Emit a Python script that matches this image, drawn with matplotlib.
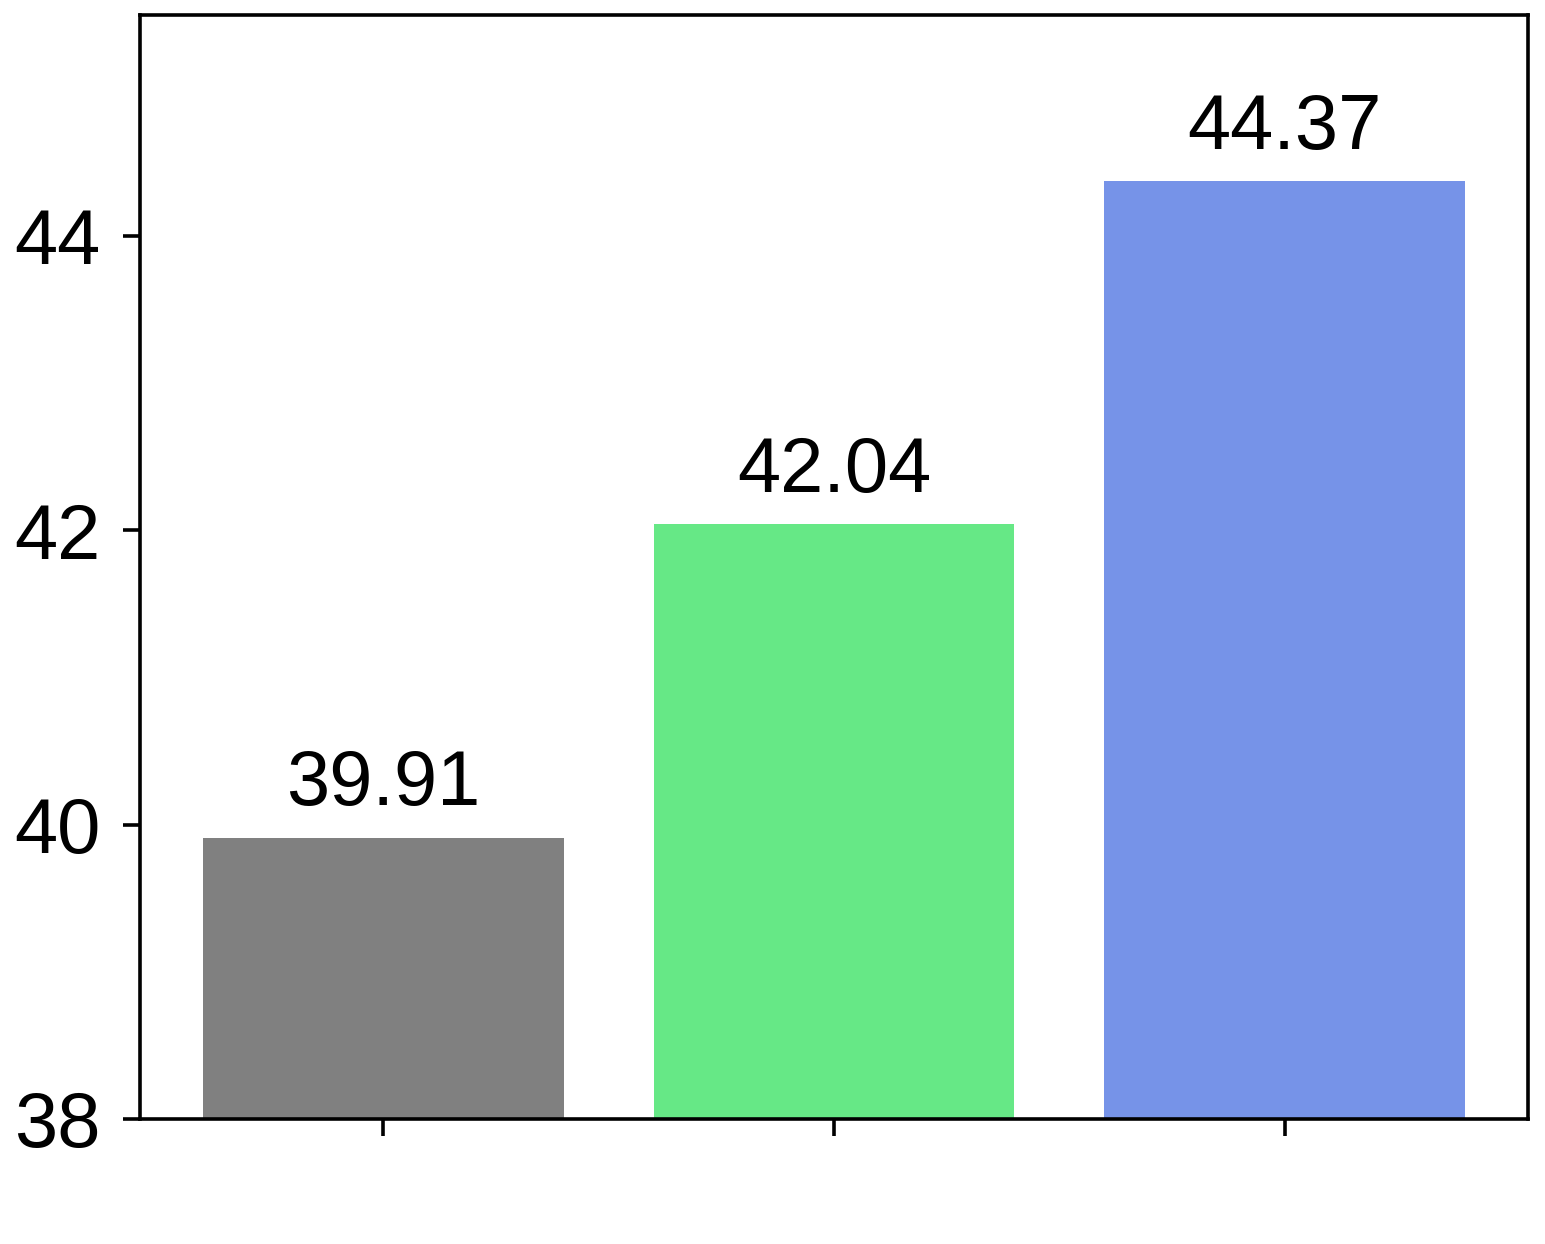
import matplotlib
matplotlib.use("Agg")
import matplotlib.pyplot as plt

plt.rcParams['font.family'] = ['Liberation Sans', 'DejaVu Sans']

# datos
categories = ["A", "B", "C"]
values = [39.91, 42.04, 44.37]
colors = ["#808080", "#66e886", "#7693e8"]

fig = plt.figure(figsize=(15.45, 12.44), dpi=100)
ax = fig.add_axes([0.0906, 0.1005, 0.8984, 0.8875])

x = range(len(categories))
bars = ax.bar(x, values, width=0.8, color=colors)

# etiquetas sobre las barras
for b, v in zip(bars, values):
    ax.annotate(f"{v:.2f}", (b.get_x() + b.get_width() / 2, v),
                xytext=(0, 12), textcoords="offset points",
                ha="center", va="bottom", fontsize=56)

ax.set_ylim(38, 45.5)
ax.set_yticks([38, 40, 42, 44])
ax.set_xticks(list(x))
ax.set_xticklabels([])
ax.tick_params(axis="both", labelsize=56, length=12.5, width=2.6, pad=16)
for s in ax.spines.values():
    s.set_linewidth(2.6)

fig.savefig("out.png", dpi=100)
